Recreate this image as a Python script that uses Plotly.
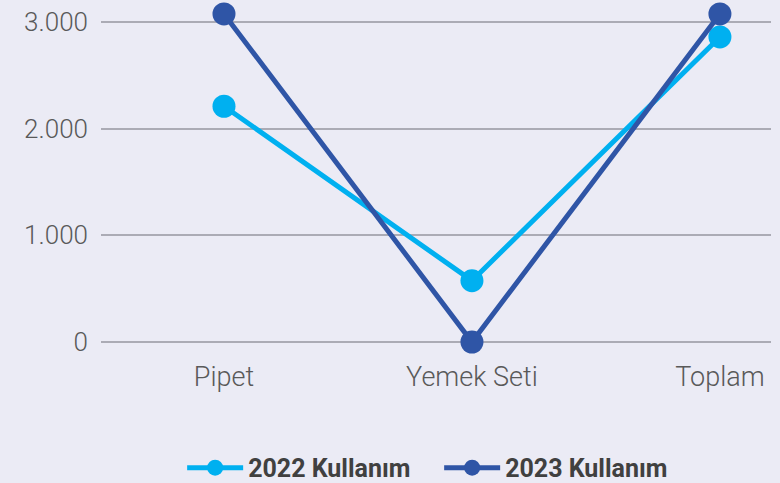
import plotly.graph_objects as go

categories = ["Pipet", "Yemek Seti", "Toplam"]
usage_2022 = [2210, 575, 2860]
usage_2023 = [3075, 0, 3075]
series_names = ["2022 Kullanım", "2023 Kullanım"]
y_ticks = [0, 1000, 2000, 3000]

fig = go.Figure()
fig.add_trace(go.Scatter(x=categories, y=usage_2022, name=series_names[0], mode="lines+markers",
                         line=dict(color="#00B0F0", width=5), marker=dict(size=23, color="#00B0F0"),
                         cliponaxis=False))
fig.add_trace(go.Scatter(x=categories, y=usage_2023, name=series_names[1], mode="lines+markers",
                         line=dict(color="#2F55A6", width=5), marker=dict(size=23, color="#2F55A6"),
                         cliponaxis=False))

fig.update_layout(
    width=780, height=483,
    margin=dict(l=101, r=9, t=0, b=125, autoexpand=False),
    paper_bgcolor="#EBEBF5", plot_bgcolor="#EBEBF5",
    font=dict(family="Roboto", color="#595959", size=26, weight=300),
    separators=",.",
    showlegend=True,
    legend=dict(orientation="h", x=0.5047, xanchor="center", y=-0.307, yanchor="middle",
                itemwidth=56, entrywidth=186, entrywidthmode="pixels",
                font=dict(family="Roboto", size=25, color="#404040", weight="bold"),
                bgcolor="rgba(0,0,0,0)"),
    xaxis=dict(type="category", range=[-0.496, 2.206], showgrid=False, zeroline=False,
               showline=False, ticks="", tickfont=dict(size=27, color="#595959", weight=300)),
    yaxis=dict(range=[-150, 3206], tickvals=y_ticks, tickformat=",d", showgrid=True,
               gridcolor="#ABABB5", gridwidth=1.5, zeroline=False, showline=False, ticks="",
               ticklabelstandoff=12, tickfont=dict(size=26, color="#595959", weight=300)),
)

fig.write_html("out.html", config={"displayModeBar": False},
               post_script="document.body.style.margin='0';document.body.style.overflow='hidden';")
